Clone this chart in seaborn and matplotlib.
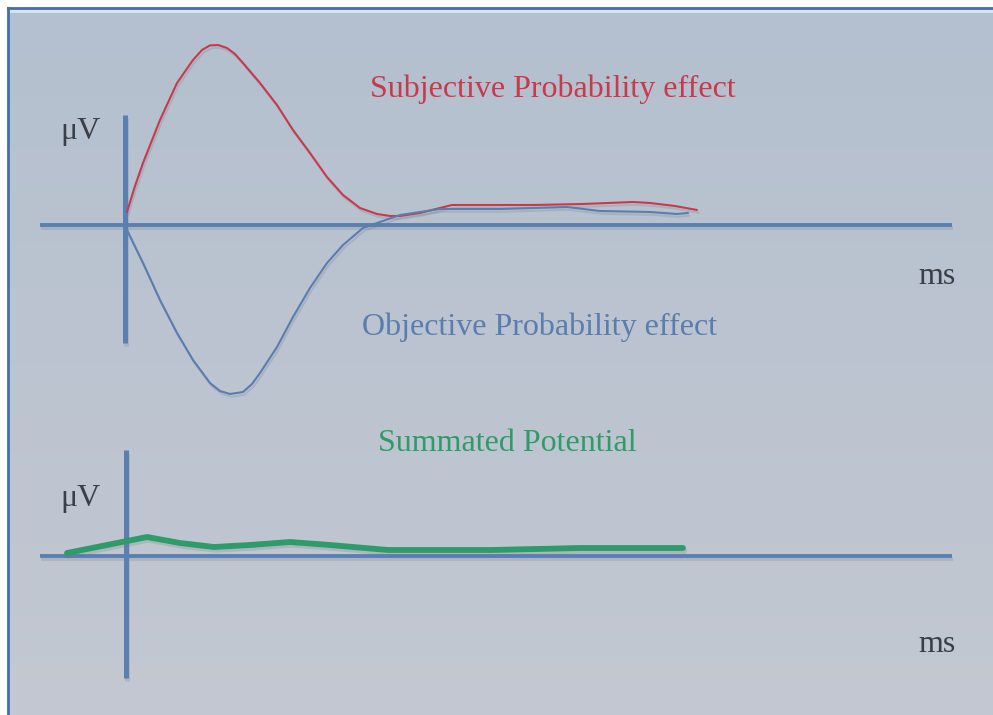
import numpy as np
import pandas as pd
import matplotlib
matplotlib.use("Agg")
import matplotlib.pyplot as plt
import matplotlib.patheffects as pe
import seaborn as sns

# ---------------- data (time in ms, amplitude in µV, schematic) ----------------
subj_t = [2, 10, 18, 35, 52, 68, 77, 85, 93, 102, 110, 118, 135, 152, 168, 185,
          202, 218, 235, 252, 265, 275, 295, 315, 327, 408, 458, 508, 525, 550, 572]
subj_v = [0.65, 1.95, 3.1, 5.25, 7.1, 8.25, 8.75, 8.98, 9.0, 8.85, 8.55, 8.1, 7.1,
          6.0, 4.75, 3.6, 2.4, 1.5, 0.85, 0.55, 0.45, 0.45, 0.6, 0.85, 1.0, 1.0,
          1.05, 1.15, 1.1, 0.95, 0.75]

obj_t = [0, 2, 18, 35, 52, 68, 85, 95, 105, 118, 127, 135, 152, 168, 185, 202,
         218, 238, 252, 275, 315, 375, 442, 475, 525, 552, 563]
obj_v = [0.0, -0.25, -1.9, -3.75, -5.4, -6.75, -7.9, -8.3, -8.45, -8.35, -7.95,
         -7.4, -6.1, -4.6, -3.15, -1.9, -1.0, -0.15, 0.1, 0.5, 0.8, 0.8, 0.9, 0.7,
         0.65, 0.55, 0.6]

sum_t = [-59, 21, 54, 88, 124, 164, 204, 262, 365, 454, 557]
sum_v = [0.15, 0.95, 0.65, 0.45, 0.55, 0.7, 0.55, 0.3, 0.3, 0.4, 0.4]

labels = {
    "subj": "Subjective Probability effect",
    "obj": "Objective Probability effect",
    "sum": "Summated Potential",
    "y": "\u03bcV",
    "x": "ms",
}

# ---------------- styling ----------------
RED = "#c8394b"
BLUE = "#5a7db0"
AXC = "#5a80b3"
GREEN = "#2e9c68"
TXT = "#3a3f48"
SERIF = ["Liberation Serif", "DejaVu Serif"]
FS = 23

sns.set_theme(style="white")
W, H = 993, 715
fig = plt.figure(figsize=(W / 100, H / 100), dpi=100)
fig.patch.set_facecolor("white")

# background panel with gradient and border
bg = fig.add_axes([8 / W, 0, 1 - 8 / W, 1 - 8 / H])
grad = np.linspace(0, 1, 256).reshape(-1, 1)
top_c = np.array([0.706, 0.753, 0.812])
bot_c = np.array([0.765, 0.784, 0.820])
img = top_c[None, None, :] * (1 - grad[:, :, None]) + bot_c[None, None, :] * grad[:, :, None]
bg.imshow(img, aspect="auto", extent=[0, 1, 0, 1], origin="upper")
bg.axhspan(1 - 5 / (H - 8), 1, color="#d6e2ef", lw=0)
bg.set_xlim(0, 1)
bg.set_ylim(0, 1)
bg.set_xticks([])
bg.set_yticks([])
for s in ["top", "left"]:
    bg.spines[s].set_color("#3f6fb3")
    bg.spines[s].set_linewidth(2)
for s in ["bottom", "right"]:
    bg.spines[s].set_visible(False)

shadow = [pe.SimpleLineShadow(offset=(1.0, -2.0), shadow_color="#6d7785", alpha=0.22), pe.Normal()]


def make_axes(py0, py1, x_origin_px, y_origin_px):
    ax = fig.add_axes([0, 1 - py1 / H, 1, (py1 - py0) / H])
    ax.set_facecolor("none")
    ax.set_xlim(-x_origin_px, W - x_origin_px)
    ax.set_ylim((y_origin_px - py1) / 20, (y_origin_px - py0) / 20)
    ax.axis("off")
    return ax


line_kw = dict(sort=False, solid_joinstyle="round", solid_capstyle="round",
               path_effects=shadow)


def label(x, y, s, color):
    fig.text(x / W, 1 - y / H, s, color=color, fontsize=FS, family=SERIF,
             ha="left", va="baseline")


# ---------------- top panel ----------------
ax1 = make_axes(0, 400, 125, 225)
ax1.plot([-85, 827], [0, 0], color=AXC, lw=2.8, solid_capstyle="butt", path_effects=shadow)
ax1.plot([0, 0], [5.5, -5.9], color=AXC, lw=3.6, solid_capstyle="butt", path_effects=shadow)

df_s = pd.DataFrame({"t": subj_t, "v": subj_v})
df_o = pd.DataFrame({"t": obj_t, "v": obj_v})
sns.lineplot(data=df_s, x="t", y="v", ax=ax1, color=RED, lw=1.5, **line_kw)
sns.lineplot(data=df_o, x="t", y="v", ax=ax1, color=BLUE, lw=1.5, **line_kw)
ax1.axis("off")

label(370, 97, labels["subj"], RED)
label(362, 335, labels["obj"], BLUE)
label(60, 139, labels["y"], TXT)
label(918, 284, labels["x"], TXT)

# ---------------- bottom panel ----------------
ax2 = make_axes(400, 715, 126, 556)
ax2.plot([-86, 826], [0, 0], color=AXC, lw=2.8, solid_capstyle="butt", path_effects=shadow)
ax2.plot([0, 0], [5.3, -6.1], color=AXC, lw=3.6, solid_capstyle="butt", path_effects=shadow)
df_g = pd.DataFrame({"t": sum_t, "v": sum_v})
sns.lineplot(data=df_g, x="t", y="v", ax=ax2, color=GREEN, lw=4.2, **line_kw)
ax2.axis("off")

label(378, 451, labels["sum"], GREEN)
label(60, 506, labels["y"], TXT)
label(918, 652, labels["x"], TXT)

fig.savefig("out.png", dpi=100)
